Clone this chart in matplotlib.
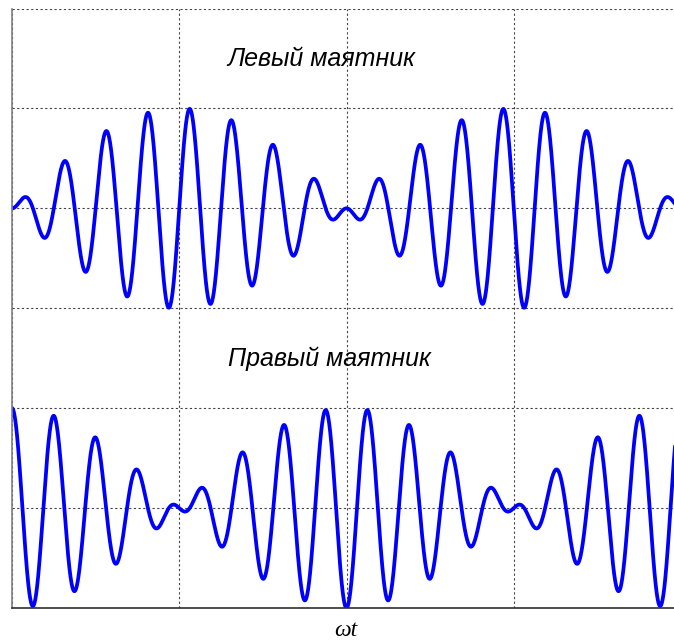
import numpy as np
import matplotlib
matplotlib.use("Agg")
import matplotlib.pyplot as plt

# Coupled pendulums: beat oscillations of the two bobs
labels = ["Левый маятник", "Правый маятник"]
offsets = [1.0, -2.0]          # vertical baseline of each trace
amplitude = 1.0
carrier_freq = 8 * np.pi       # fast oscillation (per x-unit)
beat_freq = np.pi / 2          # slow envelope (per x-unit)
x_range = [0.0, 4.0]
y_range = [-3.0, 3.0]

t = np.linspace(x_range[0], x_range[1], 4000)
left = offsets[0] + amplitude * np.sin(beat_freq * t) * np.sin(carrier_freq * t)
right = offsets[1] + amplitude * np.cos(beat_freq * t) * np.cos(carrier_freq * t)

fig = plt.figure(figsize=(6.74, 6.40), dpi=100)
ax = fig.add_axes([12 / 674, 32 / 640, 669 / 674, 599.5 / 640])

ax.plot(t, left, color="#0000ff", lw=2.7, solid_capstyle="round")
ax.plot(t, right, color="#0000ff", lw=2.7, solid_capstyle="round")

ax.set_xlim(*x_range)
ax.set_ylim(*y_range)
ax.set_xticks(np.arange(0, 5, 1))
ax.set_yticks(np.arange(-3, 4, 1))
ax.tick_params(length=0, labelbottom=False, labelleft=False)
ax.grid(True, color="#444444", linestyle=(0, (2, 2.2)), linewidth=0.8)

ax.spines["top"].set_visible(False)
ax.spines["right"].set_visible(False)
ax.spines["left"].set_color("#808080")
ax.spines["left"].set_linewidth(1.2)
ax.spines["bottom"].set_color("#303030")
ax.spines["bottom"].set_linewidth(1.2)

ax.text(1.85, 2.49, labels[0], fontsize=18, style="italic",
        family="Liberation Sans", ha="center", va="center")
ax.text(1.895, -0.51, labels[1], fontsize=18, style="italic",
        family="Liberation Sans", ha="center", va="center")

fig.text(346 / 674, 1 - 630 / 640, "ωt", fontsize=17, style="italic",
         family="Liberation Serif", ha="center", va="center")

fig.savefig("out.png", dpi=100)
